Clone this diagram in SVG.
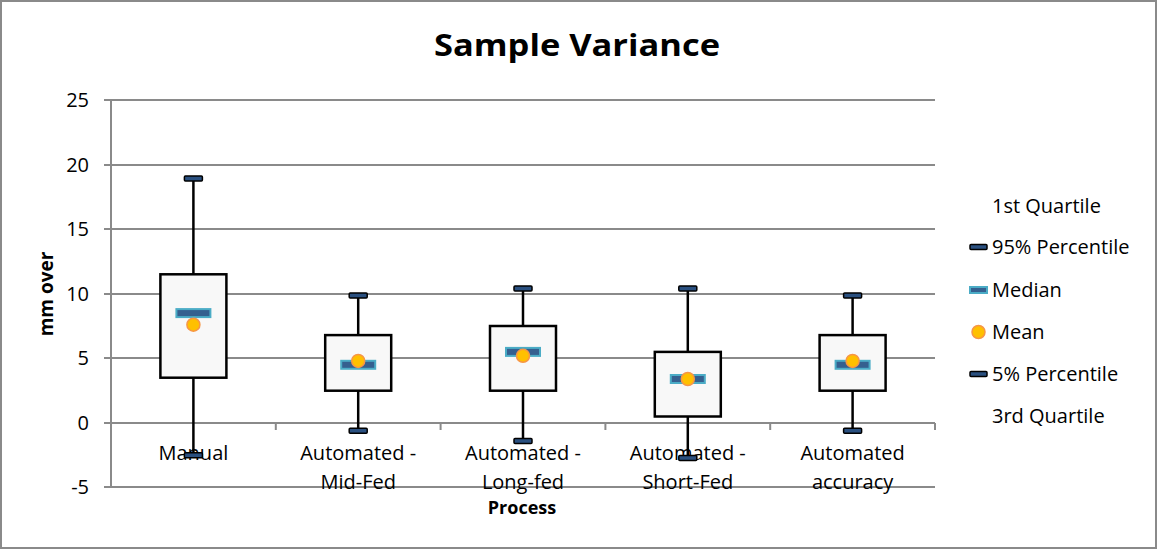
<svg xmlns="http://www.w3.org/2000/svg" width="1157" height="549" viewBox="0 0 1157 549">
  <style>
    .t { font-family: "Open Sans", "Liberation Sans", sans-serif; fill: #000; }
    .tick { font-size: 20px; text-anchor: end; }
    .cat { font-size: 20px; text-anchor: middle; }
    .leg { font-size: 20px; }
    .grid { stroke: #8a8a8a; stroke-width: 2; fill: none; }
    .box { fill: #f8f8f8; stroke: #000; stroke-width: 2.5; }
    .wh { stroke: #000; stroke-width: 2.5; fill: none; }
    .cap { fill: #2a5080; stroke: #000; stroke-width: 1.5; }
    .med { fill: #35608f; stroke: #4bacc6; stroke-width: 2; }
    .mean { fill: #ffc000; stroke: #f79646; stroke-width: 1.5; }
  </style>
  <rect x="1" y="1" width="1155" height="547" fill="#fff" stroke="#8a8a8a" stroke-width="2"/>
  <text class="t" x="577" y="56" font-size="31" font-weight="bold" text-anchor="middle" textLength="286" lengthAdjust="spacingAndGlyphs">Sample Variance</text>

  <g id="axes">
    <line class="grid" x1="104" y1="100" x2="935" y2="100"/>
    <line class="grid" x1="104" y1="165" x2="935" y2="165"/>
    <line class="grid" x1="104" y1="229" x2="935" y2="229"/>
    <line class="grid" x1="104" y1="294" x2="935" y2="294"/>
    <line class="grid" x1="104" y1="358" x2="935" y2="358"/>
    <line class="grid" x1="104" y1="423" x2="935" y2="423"/>
    <line class="grid" x1="104" y1="487" x2="935" y2="487"/>
    <line class="grid" x1="111" y1="100" x2="111" y2="487"/>
    <line class="grid" x1="275.8" y1="423" x2="275.8" y2="430"/>
    <line class="grid" x1="440.6" y1="423" x2="440.6" y2="430"/>
    <line class="grid" x1="605.4" y1="423" x2="605.4" y2="430"/>
    <line class="grid" x1="770.2" y1="423" x2="770.2" y2="430"/>
    <line class="grid" x1="935" y1="423" x2="935" y2="430"/>
    <g class="t tick">
      <text x="89" y="107">25</text>
      <text x="89" y="172">20</text>
      <text x="89" y="236">15</text>
      <text x="89" y="301">10</text>
      <text x="89" y="365">5</text>
      <text x="89" y="430">0</text>
      <text x="89" y="494">-5</text>
    </g>
    <text class="t" transform="translate(53,294) rotate(-90)" font-size="19" font-weight="bold" text-anchor="middle">mm over</text>
    <text class="t" x="522" y="514" font-size="18" font-weight="bold" text-anchor="middle">Process</text>
    <g class="t cat">
      <text x="193.4" y="460">Manual</text>
      <text x="358.2" y="460">Automated -</text>
      <text x="358.2" y="489">Mid-Fed</text>
      <text x="523" y="460">Automated -</text>
      <text x="523" y="489">Long-fed</text>
      <text x="687.8" y="460">Automated -</text>
      <text x="687.8" y="489">Short-Fed</text>
      <text x="852.6" y="460">Automated</text>
      <text x="852.6" y="489">accuracy</text>
    </g>
  </g>

  <g id="connectors">
    <line class="wh" x1="193.4" y1="178.6" x2="193.4" y2="274.3"/>
    <line class="wh" x1="193.4" y1="377.7" x2="193.4" y2="455.3"/>
    <line class="wh" x1="358.2" y1="295.6" x2="358.2" y2="335.1"/>
    <line class="wh" x1="358.2" y1="390.7" x2="358.2" y2="430.8"/>
    <line class="wh" x1="523" y1="288.5" x2="523" y2="326"/>
    <line class="wh" x1="523" y1="390.7" x2="523" y2="441.1"/>
    <line class="wh" x1="687.8" y1="288.5" x2="687.8" y2="351.9"/>
    <line class="wh" x1="687.8" y1="416.5" x2="687.8" y2="457.9"/>
    <line class="wh" x1="852.6" y1="295.6" x2="852.6" y2="335.1"/>
    <line class="wh" x1="852.6" y1="390.7" x2="852.6" y2="430.8"/>
  </g>

  <g id="manual">
    <rect class="box" x="160.4" y="274.3" width="66" height="103.4"/>
    <rect class="cap" x="184.4" y="176.1" width="18" height="5" rx="1"/>
    <rect class="cap" x="184.4" y="452.8" width="18" height="5" rx="1"/>
    <rect class="med" x="176.4" y="309.1" width="34" height="8"/>
    <circle class="mean" cx="193.4" cy="324.7" r="6.5"/>
  </g>
  <g id="mid-fed">
    <rect class="box" x="325.2" y="335.1" width="66" height="55.6"/>
    <rect class="cap" x="349.2" y="293.1" width="18" height="5" rx="1"/>
    <rect class="cap" x="349.2" y="428.3" width="18" height="5" rx="1"/>
    <rect class="med" x="341.2" y="360.8" width="34" height="8"/>
    <circle class="mean" cx="358.2" cy="360.9" r="6.5"/>
  </g>
  <g id="long-fed">
    <rect class="box" x="490" y="326" width="66" height="64.7"/>
    <rect class="cap" x="514" y="286" width="18" height="5" rx="1"/>
    <rect class="cap" x="514" y="438.6" width="18" height="5" rx="1"/>
    <rect class="med" x="506" y="347.9" width="34" height="8"/>
    <circle class="mean" cx="523" cy="355.8" r="6.5"/>
  </g>
  <g id="short-fed">
    <rect class="box" x="654.8" y="351.9" width="66" height="64.6"/>
    <rect class="cap" x="678.8" y="286" width="18" height="5" rx="1"/>
    <rect class="cap" x="678.8" y="455.4" width="18" height="5" rx="1"/>
    <rect class="med" x="670.8" y="375" width="34" height="8"/>
    <circle class="mean" cx="687.8" cy="379" r="6.5"/>
  </g>
  <g id="accuracy">
    <rect class="box" x="819.6" y="335.1" width="66" height="55.6"/>
    <rect class="cap" x="843.6" y="293.1" width="18" height="5" rx="1"/>
    <rect class="cap" x="843.6" y="428.3" width="18" height="5" rx="1"/>
    <rect class="med" x="835.6" y="360.8" width="34" height="8"/>
    <circle class="mean" cx="852.6" cy="360.9" r="6.5"/>
  </g>

  <g id="legend">
    <text class="t leg" x="992" y="213">1st Quartile</text>
    <rect class="cap" x="970" y="244.5" width="17" height="5" rx="1"/>
    <text class="t leg" x="992" y="254">95% Percentile</text>
    <rect class="med" x="970" y="287" width="17" height="6"/>
    <text class="t leg" x="992" y="297">Median</text>
    <circle class="mean" cx="978.5" cy="332" r="6.5"/>
    <text class="t leg" x="992" y="339">Mean</text>
    <rect class="cap" x="970" y="371.5" width="17" height="5" rx="1"/>
    <text class="t leg" x="992" y="381">5% Percentile</text>
    <text class="t leg" x="992" y="423">3rd Quartile</text>
  </g>
</svg>
